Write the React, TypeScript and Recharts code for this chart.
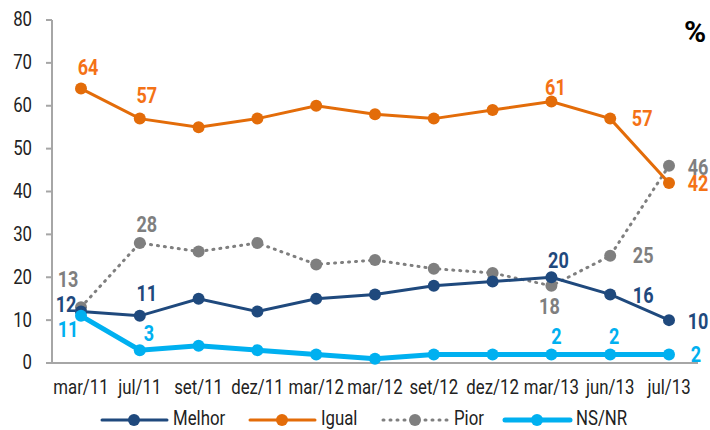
import React from 'react';
import { LineChart, Line, XAxis, YAxis, LabelList, Legend } from 'recharts';

const periods = ['mar/11', 'jul/11', 'set/11', 'dez/11', 'mar/12', 'mar/12', 'set/12', 'dez/12', 'mar/13', 'jun/13', 'jul/13'];
const melhor = [12, 11, 15, 12, 15, 16, 18, 19, 20, 16, 10];
const igual = [64, 57, 55, 57, 60, 58, 57, 59, 61, 57, 42];
const pior = [13, 28, 26, 28, 23, 24, 22, 21, 18, 25, 46];
const nsnr = [11, 3, 4, 3, 2, 1, 2, 2, 2, 2, 2];
const yTicks = [0, 10, 20, 30, 40, 50, 60, 70, 80];

// no condensed font installed, so Roboto gets squeezed horizontally
const FONT = 'Roboto, sans-serif';
const SQUEEZE = 0.84;

const C_MELHOR = '#1f497d';
const C_IGUAL = '#e36c09';
const C_IGUAL_TXT = '#f47216';
const C_PIOR = '#7f7f7f';
const C_NSNR = '#00b0f0';
const C_AXIS = '#a6a6a6';

const data = periods.map((p, i) => ({
    p,
    Melhor: melhor[i],
    Igual: igual[i],
    Pior: pior[i],
    'NS/NR': nsnr[i],
}));

// which points get a value label, and where it sits relative to the point
const melhorLabels: Record<number, [number, number]> = { 0: [-15, -7], 1: [7, -22], 8: [7, -16], 9: [33, 2], 10: [29, 2] };
const igualLabels: Record<number, [number, number]> = { 0: [7, -21], 1: [7, -23], 8: [4, -14], 9: [32, 0], 10: [29, 1] };
const piorLabels: Record<number, [number, number]> = { 0: [-13, -27], 1: [7, -18], 8: [-2, 21], 9: [33, 0], 10: [29, 2] };
const nsnrLabels: Record<number, [number, number]> = { 0: [-13, 14], 1: [9, -16], 8: [5, -17], 9: [4, -17], 10: [27, 1] };

const Squeezed = ({ x, y, children, anchor = 'middle', size, color, bold, squeeze = SQUEEZE }: any) => (
    <g transform={`translate(${x},${y}) scale(${squeeze},1)`}>
        <text
            x={0}
            y={0}
            textAnchor={anchor}
            dominantBaseline="central"
            fill={color}
            fontFamily={FONT}
            fontWeight={bold ? 'bold' : 'normal'}
            fontSize={size}
        >
            {children}
        </text>
    </g>
);

const makeLabel = (pos: Record<number, [number, number]>, color: string) => (props: any) => {
    const { x, y, index, value } = props;
    const off = pos[index];
    if (!off) return null;
    return <Squeezed x={x + off[0]} y={y + off[1]} size={21.5} color={color} bold>{value}</Squeezed>;
};

const XTick = (props: any) => {
    const { x, y, payload } = props;
    return <Squeezed x={x} y={y + 23} size={20} color="#222">{payload.value}</Squeezed>;
};

const YTick = (props: any) => {
    const { x, y, payload } = props;
    return <Squeezed x={x} y={y} anchor="end" size={20} color="#222">{payload.value}</Squeezed>;
};

const legendItems = [
    { name: 'Melhor', color: C_MELHOR, width: 3, dash: undefined as string | undefined, x: 102 },
    { name: 'Igual', color: C_IGUAL, width: 3, dash: undefined, x: 250 },
    { name: 'Pior', color: C_PIOR, width: 3, dash: '1 6', x: 383 },
    { name: 'NS/NR', color: C_NSNR, width: 5, dash: undefined, x: 505 },
];

const CustomLegend = () => (
    <svg width={710} height={37}>
        {legendItems.map(item => (
            <g key={item.name}>
                <line x1={item.x} y1={27} x2={item.x + 65} y2={27} stroke={item.color} strokeWidth={item.width} strokeDasharray={item.dash} strokeLinecap="round" />
                <circle cx={item.x + 32} cy={27} r={6} fill={item.color} />
                <Squeezed x={item.x + 71} y={26} anchor="start" size={20} color="#222">{item.name}</Squeezed>
            </g>
        ))}
    </svg>
);

const App: React.FC = () => {
    return (
        <div style={{ position: 'absolute', left: 0, top: 0, width: 710, height: 430, background: '#fff' }}>
            <LineChart width={710} height={430} data={data} margin={{ top: 20, right: 12, left: 0, bottom: 0 }}>
                <XAxis
                    dataKey="p"
                    height={30}
                    padding={{ left: 29, right: 29 }}
                    tickLine={false}
                    tickSize={0}
                    tickMargin={2}
                    axisLine={{ stroke: C_AXIS, strokeWidth: 2 }}
                    tick={<XTick />}
                    interval={0}
                />
                <YAxis
                    width={52}
                    domain={[0, 80]}
                    ticks={yTicks}
                    tickSize={6}
                    tickMargin={14}
                    axisLine={{ stroke: C_AXIS, strokeWidth: 2 }}
                    tickLine={{ stroke: C_AXIS, strokeWidth: 2 }}
                    tick={<YTick />}
                />
                <Legend verticalAlign="bottom" content={<CustomLegend />} wrapperStyle={{ height: 37, width: 710, left: 0 }} />
                <Line dataKey="Pior" stroke={C_PIOR} strokeWidth={3} strokeDasharray="1 6" strokeLinecap="round" dot={{ r: 6, fill: C_PIOR, stroke: 'none' }} isAnimationActive={false}>
                    <LabelList dataKey="Pior" content={makeLabel(piorLabels, C_PIOR)} />
                </Line>
                <Line dataKey="Igual" stroke={C_IGUAL} strokeWidth={3} dot={{ r: 6, fill: C_IGUAL, stroke: 'none' }} isAnimationActive={false}>
                    <LabelList dataKey="Igual" content={makeLabel(igualLabels, C_IGUAL_TXT)} />
                </Line>
                <Line dataKey="Melhor" stroke={C_MELHOR} strokeWidth={3} dot={{ r: 6, fill: C_MELHOR, stroke: 'none' }} isAnimationActive={false}>
                    <LabelList dataKey="Melhor" content={makeLabel(melhorLabels, C_MELHOR)} />
                </Line>
                <Line dataKey="NS/NR" stroke={C_NSNR} strokeWidth={5} dot={{ r: 6, fill: C_NSNR, stroke: 'none' }} isAnimationActive={false}>
                    <LabelList dataKey="NS/NR" content={makeLabel(nsnrLabels, C_NSNR)} />
                </Line>
                <Squeezed x={695} y={31} size={30} color="#000" bold squeeze={1}>%</Squeezed>
            </LineChart>
        </div>
    );
};

export default App;
